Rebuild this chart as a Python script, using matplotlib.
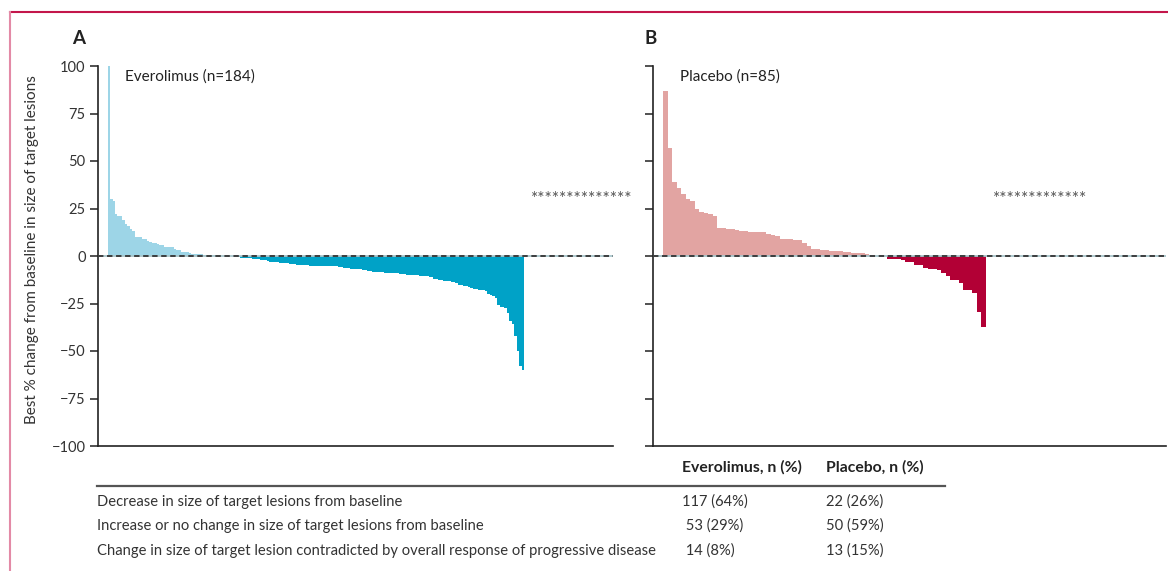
import numpy as np
import matplotlib
matplotlib.use("Agg")
import matplotlib.pyplot as plt
from matplotlib.lines import Line2D

plt.rcParams['font.family'] = ['Lato', 'DejaVu Sans']

# Everolimus: increase / no change (53) then decrease (117), sorted
evero_up = [100, 30, 29, 22, 21, 21, 19, 17, 16, 14, 13, 10, 10, 10, 9, 9, 8,
            7.5, 7, 7, 6.5, 6, 6, 5, 5, 5, 4.5, 3.5, 3, 3, 2.2, 2, 2, 1.8,
            1.3, 1.2, 1.1, 1, 0.8, 0.7, 0.7, 0.6, 0.5, 0.3, 0.3, 0.2, 0.2,
            0.2, 0.1, 0.1, 0.1, 0, 0]
evero_down = [-0.7, -0.8, -0.9, -1.0, -1.1, -1.3, -1.5, -1.6, -1.8, -2.0, -2.1,
              -2.3, -2.5,
              -3.0, -3.1, -3.3, -3.4, -3.5, -3.7, -3.8, -3.9, -4.1, -4.2, -4.4,
              -4.5,
              -4.8, -4.8, -4.9, -4.9, -5.0, -5.0, -5.0, -5.0, -5.1, -5.1, -5.1,
              -5.2, -5.2, -5.2, -5.3, -5.4,
              -5.8, -6.0, -6.1, -6.3, -6.4, -6.6, -6.7, -6.8, -7.0, -7.1, -7.3,
              -7.4,
              -8.0, -8.1, -8.2, -8.3, -8.4, -8.5, -8.6, -8.7, -8.8, -8.9, -9.0,
              -9.1, -9.2, -9.3, -9.4, -9.5,
              -9.8, -9.9, -10.0, -10.1, -10.2, -10.4, -10.5, -10.6, -10.7,
              -10.9, -11.0,
              -12.0, -12.2, -12.4, -12.7, -13.0, -13.2, -13.4, -13.6, -13.8,
              -14.0,
              -15.0, -15.3, -15.7, -16.0, -16.4, -16.8, -17.2, -17.5,
              -18.0, -18.0, -18.1, -18.2,
              -20.0, -20.5, -21.2, -22.0,
              -26.0, -27.0, -27.0, -27.2, -30.0, -34.0, -36.0, -42.0, -50.0,
              -58.0, -60.0]

# Placebo: increase / no change (50) then decrease (22)
placebo_up = [87, 57, 39, 36, 32.5, 30, 29, 25, 23, 22.5, 22, 21, 15, 14.8,
              14, 14, 13.5, 13.4, 13.3, 12.8, 12.6, 12.5, 12.5, 11.8, 10.8,
              10.6, 9.2, 9, 9, 8.4, 8.2, 7, 5.2, 3.6, 3.5, 3.4, 3, 2.6, 2.5,
              2.4, 2, 1.9, 1.8, 1.5, 1.4, 1.3, 0, 0, 0, 0]
placebo_down = [-1.5, -1.6, -1.7, -2.1, -3.2, -3.4, -4.5, -4.7, -6.4, -6.6,
                -7.1, -7.3, -9.0, -10.4, -12.5, -12.7, -14.4, -17.8, -18.0,
                -19.5, -29.3, -37.6]

yticks = [100, 75, 50, 25, 0, -25, -50, -75, -100]
ytick_labels = ['100', '75', '50', '25', '0', '\u221225', '\u221250', '\u221275',
                '\u2212100']

row_labels = ["Decrease in size of target lesions from baseline",
              "Increase or no change in size of target lesions from baseline",
              "Change in size of target lesion contradicted by overall response of progressive disease"]
evero_counts = ["117 (64%)", " 53 (29%)", " 14 (8%)"]
placebo_counts = ["22 (26%)", "50 (59%)", "13 (15%)"]
n_pd_evero = 14
n_pd_placebo = 13

W, H = 1168, 571
fig = plt.figure(figsize=(W / 100, H / 100), dpi=100, facecolor='white')


def px(x, y):
    return x / W, 1 - y / H


def panel(rect, up, down, c_up, c_down, xlim, star_x, n_star, label,
          show_labels):
    ax = fig.add_axes(rect)
    vals = np.array(up + down, dtype=float)
    x = np.arange(len(vals))
    cols = [c_up] * len(up) + [c_down] * len(down)
    ax.bar(x, vals, width=1.0, align='edge', color=cols, linewidth=0)
    ax.axhline(0, color='#a9c6cc', lw=1.3, zorder=3)
    ax.axhline(0, color='#333333', lw=1.3, dashes=(3, 2), zorder=4)
    ax.set_xlim(*xlim)
    ax.set_ylim(-100, 100)
    ax.set_yticks(yticks)
    if show_labels:
        ax.set_yticklabels(ytick_labels)
    else:
        ax.set_yticklabels([])
    ax.set_xticks([])
    for s in ['top', 'right']:
        ax.spines[s].set_visible(False)
    for s in ['left', 'bottom']:
        ax.spines[s].set_linewidth(1.2)
        ax.spines[s].set_color('#222222')
    ax.tick_params(axis='y', direction='out', length=6, width=1.1,
                   color='#222222', labelsize=10.5, labelcolor='#333333', pad=3)
    ax.text(star_x, 30, '*' * n_star, fontsize=12.5, color='#555555',
            ha='left', va='center', clip_on=False)
    ax.text(0.053, 0.99, label, transform=ax.transAxes, fontsize=11,
            color='#222222', ha='left', va='top')
    return ax


axA = panel([98 / W, 1 - 446 / H, (612.7 - 98) / W, 380 / H],
            evero_up, evero_down, '#9dd5e7', '#00a2c7',
            (-3.96, 206.2), 172.8, n_pd_evero, 'Everolimus (n=184)', True)
axB = panel([653.3 / W, 1 - 446 / H, (1166 - 653.3) / W, 380 / H],
            placebo_up, placebo_down, '#e2a4a2', '#b20035',
            (-2.23, 112.2), 73.6, n_pd_placebo, 'Placebo (n=85)', False)

fig.text(*px(79, 38), 'A', fontsize=13.5, fontweight='bold', ha='center',
         va='center', color='#222222')
fig.text(*px(651, 38), 'B', fontsize=13.5, fontweight='bold', ha='center',
         va='center', color='#222222')
fig.text(*px(32, 250), 'Best % change from baseline in size of target lesions',
         rotation=90, fontsize=11, ha='center', va='center', color='#333333')

# table below the panels
fig.text(*px(682, 467), 'Everolimus, n (%)', fontsize=11.3, fontweight='bold',
         ha='left', va='center', color='#222222')
fig.text(*px(826, 467), 'Placebo, n (%)', fontsize=11.3, fontweight='bold',
         ha='left', va='center', color='#222222')
fig.add_artist(Line2D([97 / W, 945 / W], [1 - 486 / H, 1 - 486 / H],
                      color='#555555', lw=1.6))
row_y = [502, 526, 551]
for lab, e, p, y in zip(row_labels, evero_counts, placebo_counts, row_y):
    fig.text(*px(97, y), lab, fontsize=10.6, ha='left', va='center',
             color='#333333')
    fig.text(*px(682, y), e, fontsize=10.6, ha='left', va='center',
             color='#333333')
    fig.text(*px(826, y), p, fontsize=10.6, ha='left', va='center',
             color='#333333')

# page frame
fig.add_artist(Line2D([10 / W, 1], [1 - 12 / H, 1 - 12 / H], color='#c3164b',
                      lw=1.5))
fig.add_artist(Line2D([10 / W, 10 / W], [0, 1 - 12 / H], color='#e38aa6',
                      lw=1.5))

fig.savefig('out.png', dpi=100)
